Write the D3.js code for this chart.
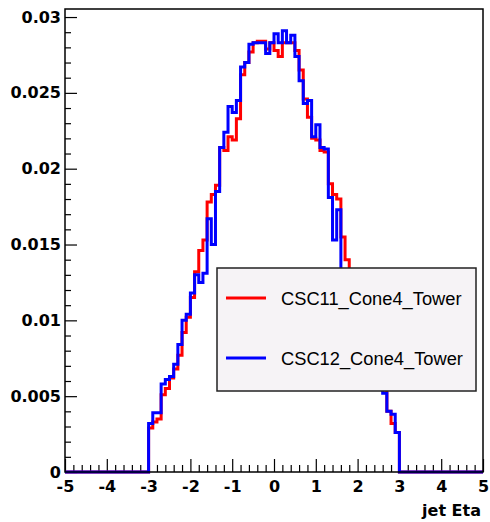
<!DOCTYPE html>
<html><head><meta charset="utf-8">
<script src="https://cdn.jsdelivr.net/npm/d3@7"></script>
<style>html,body{margin:0;padding:0;background:#fff;} svg{display:block}</style>
</head><body>
<svg id="c" width="490" height="522"></svg>
<script>
const xTicks = [-5,-4,-3,-2,-1,0,1,2,3,4,5];
const yTicks = [0, 0.005, 0.01, 0.015, 0.02, 0.025, 0.03];
const yTickLabels = ["0","0.005","0.01","0.015","0.02","0.025","0.03"];
const xTitle = "jet Eta";
const histLow = -3, binWidth = 0.1;
const seriesNames = ["CSC11_Cone4_Tower","CSC12_Cone4_Tower"];
const seriesColors = ["#ff0000","#0000ff"];
// bins from -3.0 to 3.0, width 0.1
const csc11 = [
 0.0029,0.0033,0.0035,0.0051,0.0055,0.0062,0.0068,0.0077,0.0092,0.0102,
 0.0115,0.0132,0.0146,0.0153,0.0178,0.0183,0.0189,0.0214,0.0212,0.0221,
 0.0219,0.0233,0.0262,0.0270,0.0277,0.0283,0.0284,0.0284,0.0279,0.0283,
 0.0278,0.0274,0.0283,0.0283,0.0283,0.0278,0.0265,0.0246,0.0234,0.0220,
 0.0219,0.0212,0.0211,0.0190,0.0183,0.0180,0.0155,0.0140,0.0122,0.0108,
 0.0098,0.0088,0.0080,0.0071,0.0064,0.0058,0.0054,0.0040,0.0032,0.0026];
const csc12 = [
 0.0032,0.0039,0.0039,0.0058,0.0061,0.0063,0.0071,0.0084,0.0100,0.0104,
 0.0118,0.0130,0.0125,0.0131,0.0167,0.0150,0.0185,0.0214,0.0224,0.0241,
 0.0237,0.0245,0.0267,0.0270,0.0282,0.0283,0.0283,0.0283,0.0276,0.0283,
 0.0289,0.0283,0.0291,0.0283,0.0288,0.0274,0.0258,0.0243,0.0245,0.0221,
 0.0229,0.0214,0.0213,0.0181,0.0153,0.0173,0.0125,0.0115,0.0105,0.0098,
 0.0090,0.0082,0.0075,0.0068,0.0062,0.0058,0.0052,0.0040,0.0038,0.0026];
const seriesData = [csc11, csc12];

const svg = d3.select("#c");
const x = d3.scaleLinear().domain([-5,5]).range([65,483]);
const y = d3.scaleLinear().domain([0,0.03053]).range([472,9]);

// minor ticks
const xMinor = d3.range(-50,51,2).map(d=>d/10).filter(d=>Math.abs(d-Math.round(d))>1e-9);
const yMinor = d3.range(0,31,1).map(d=>d/1000).filter(d=>Math.abs(d*200-Math.round(d*200))>1e-6);

const gx = svg.append("g").attr("transform","translate(0,472)");
gx.call(d3.axisBottom(x).tickValues(xMinor).tickSizeInner(-7).tickSizeOuter(0).tickFormat(""));
gx.call(g=>g.select(".domain").remove());
const gx2 = svg.append("g").attr("transform","translate(0,472)");
gx2.call(d3.axisBottom(x).tickValues(xTicks).tickSizeInner(-13).tickSizeOuter(0).tickPadding(9).tickFormat(d=>String(d)));
gx2.select(".domain").remove();
gx2.selectAll("text").attr("font-family","DejaVu Sans").attr("font-weight","bold").attr("font-size",16).attr("fill","#000");

const gy = svg.append("g").attr("transform","translate(65,0)");
gy.call(d3.axisLeft(y).tickValues(yMinor).tickSizeInner(-6).tickSizeOuter(0).tickFormat(""));
gy.select(".domain").remove();
const gy2 = svg.append("g").attr("transform","translate(65,0)");
gy2.call(d3.axisLeft(y).tickValues(yTicks).tickSizeInner(-12).tickSizeOuter(0).tickPadding(4).tickFormat((d,i)=>yTickLabels[i]));
gy2.select(".domain").remove();
gy2.selectAll("text").attr("font-family","DejaVu Sans").attr("font-weight","bold").attr("font-size",16).attr("fill","#000");
svg.selectAll(".tick line").attr("stroke","#000").attr("stroke-width",1.2);

// histograms
const line = d3.line().x(d=>x(d[0])).y(d=>y(d[1]));
seriesData.forEach((vals,k)=>{
  const pts = [[-5,0],[histLow,0]];
  vals.forEach((v,i)=>{
    const lo = histLow + i*binWidth;
    pts.push([lo, v]); pts.push([lo+binWidth, v]);
  });
  const hi = histLow + vals.length*binWidth;
  pts.push([hi,0]); pts.push([5,0]);
  svg.append("path").attr("d",line(pts)).attr("fill","none")
    .attr("stroke",seriesColors[k]).attr("stroke-width",3).attr("stroke-linejoin","miter");
});

// frame
svg.append("rect").attr("x",x(-5)).attr("y",y(0.03053)).attr("width",x(5)-x(-5)).attr("height",y(0)-y(0.03053))
  .attr("fill","none").attr("stroke","#000").attr("stroke-width",1.5);

// x title
svg.append("text").attr("x",481).attr("y",516).attr("text-anchor","end")
  .attr("font-family","DejaVu Sans").attr("font-weight","bold").attr("font-size",16).text(xTitle);

// legend
const lg = svg.append("g");
lg.append("rect").attr("x",217).attr("y",268).attr("width",259).attr("height",123)
  .attr("fill","#f6f3f6").attr("stroke","#222").attr("stroke-width",1.5);
seriesNames.forEach((n,k)=>{
  const yy = 298 + k*60;
  lg.append("line").attr("x1",226).attr("x2",266).attr("y1",yy).attr("y2",yy)
    .attr("stroke",seriesColors[k]).attr("stroke-width",3);
  lg.append("text").attr("x",281).attr("y",yy).attr("dominant-baseline","central")
    .attr("font-family","Liberation Sans, Arial, sans-serif").attr("font-size",18.3).attr("fill","#000").text(n);
});
</script>
</body></html>
